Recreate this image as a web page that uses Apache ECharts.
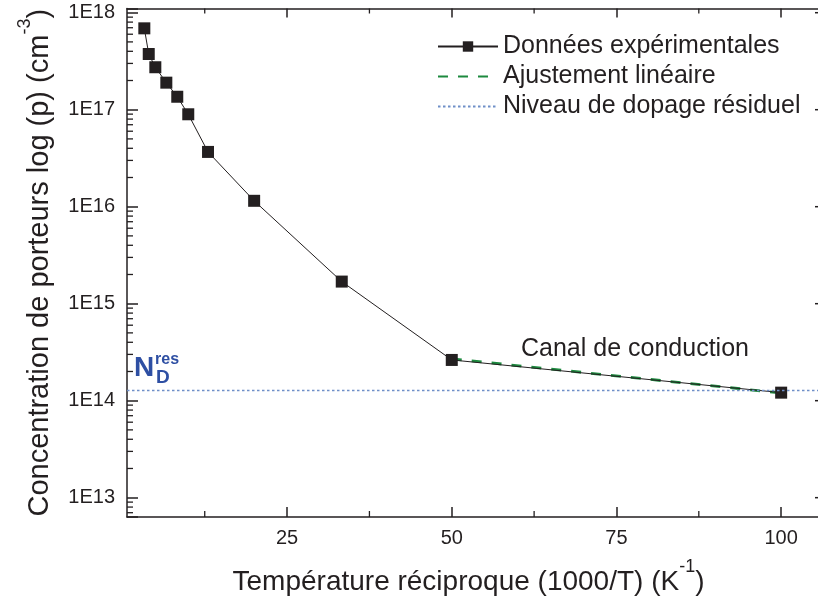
<!DOCTYPE html>
<html>
<head>
<meta charset="utf-8">
<script src="https://cdn.jsdelivr.net/npm/echarts@6/dist/echarts.min.js"></script>
<style>
html,body{margin:0;padding:0;background:#fff;overflow:hidden;}
#c{width:818px;height:605px;}
</style>
</head>
<body>
<div id="c"></div>
<script>
// ---- data ----
const invT = [3.33, 4, 5, 6.67, 8.33, 10, 13, 20, 33.3, 50, 100];
const pConc = [6.9e17, 3.75e17, 2.74e17, 1.9e17, 1.36e17, 8.97e16, 3.67e16, 1.15e16, 1.69e15, 2.63e14, 1.21e14];
const fitX = [50, 100];
const fitY = [2.7e14, 1.2e14];
const residualLevel = 1.27e14;
const xMajorTicks = [25, 50, 75, 100];
const xMinorTicks = [12.5, 37.5, 62.5, 87.5];
const yMajorTicks = [1e13, 1e14, 1e15, 1e16, 1e17, 1e18];
const yDecades = [12, 13, 14, 15, 16, 17];
const yMinorMantissas = [2, 3, 4, 5, 6, 7, 8, 9];
const seriesNames = ['Données expérimentales', 'Ajustement linéaire', 'Niveau de dopage résiduel'];

const X_MIN = 0.7, X_MAX = 106.2;
const Y_MIN = 6.32e12, Y_MAX = 1.105e18;
const FONT = '"Liberation Sans", Arial, Helvetica, sans-serif';
const INK = '#231f20';

const yMinorTicks = [];
yDecades.forEach(d => yMinorMantissas.forEach(m => {
  const v = m * Math.pow(10, d);
  if (v > Y_MIN && v < Y_MAX) yMinorTicks.push(v);
}));

const chart = echarts.init(document.getElementById('c'), null, {renderer: 'canvas'});

function yLabel(v) {
  const e = Math.log10(v);
  const r = Math.round(e);
  return Math.abs(e - r) < 1e-6 ? '1E' + r : '';
}

const option = {
  backgroundColor: '#fff',
  animation: false,
  grid: {left: 127, top: 8.5, width: 695, height: 508.5, containLabel: false, outerBoundsMode: 'none'},
  legend: {
    data: seriesNames,
    orient: 'vertical',
    left: 437,
    top: 34,
    padding: 0,
    itemWidth: 60,
    itemHeight: 13,
    itemGap: 5,
    textStyle: {fontFamily: FONT, fontSize: 25, color: INK},
    selectedMode: false
  },
  xAxis: [{
    type: 'value', position: 'bottom', min: X_MIN, max: X_MAX,
    axisLine: {show: true, lineStyle: {color: INK, width: 1.5}},
    axisTick: {show: true, inside: true, length: 10, customValues: xMajorTicks, lineStyle: {color: INK, width: 1.5}},
    axisLabel: {show: true, customValues: xMajorTicks, margin: 11, fontFamily: FONT, fontSize: 20, color: INK},
    splitLine: {show: false},
    name: '{t|Température réciproque (1000/T) (K}{s|-1}{t|)}',
    nameLocation: 'middle', nameGap: 41,
    nameTextStyle: {fontFamily: FONT, color: INK, fontSize: 28, padding: [0, 12, 0, 0],
      rich: {t: {fontFamily: FONT, fontSize: 28, color: INK, lineHeight: 38, verticalAlign: 'bottom'},
             s: {fontFamily: FONT, fontSize: 18, color: INK, lineHeight: 19, verticalAlign: 'top'}}}
  }, {
    type: 'value', position: 'top', min: X_MIN, max: X_MAX,
    axisLine: {show: true, lineStyle: {color: INK, width: 1.5}},
    axisTick: {show: true, inside: true, length: 9, customValues: xMajorTicks, lineStyle: {color: INK, width: 1.5}},
    axisLabel: {show: false}, splitLine: {show: false}
  }],
  yAxis: [{
    type: 'log', logBase: 10, position: 'left', min: Y_MIN, max: Y_MAX,
    axisLine: {show: true, lineStyle: {color: INK, width: 1.5}},
    axisTick: {show: true, inside: true, length: 11, lineStyle: {color: INK, width: 1.5}},
    axisLabel: {show: true, formatter: yLabel, margin: 12, fontFamily: FONT, fontSize: 20, color: INK},
    splitLine: {show: false},
    name: '{t|Concentration de porteurs log (p) (cm}{s|-3}{t|)}',
    nameLocation: 'middle', nameGap: 73, nameRotate: 90,
    nameTextStyle: {fontFamily: FONT, color: INK, fontSize: 29,
      rich: {t: {fontFamily: FONT, fontSize: 29, color: INK, lineHeight: 38, verticalAlign: 'bottom'},
             s: {fontFamily: FONT, fontSize: 18, color: INK, lineHeight: 19, verticalAlign: 'top'}}}
  }],
  series: [
    {
      name: seriesNames[2], type: 'line',
      data: [], showSymbol: false, symbol: 'none',
      lineStyle: {color: '#6f8fc8', width: 1.3, type: [2.5, 2.5]},
      itemStyle: {color: 'rgba(0,0,0,0)'},
      markLine: {
        silent: true, symbol: ['none', 'none'], label: {show: false},
        lineStyle: {color: '#6f8fc8', width: 1.3, type: [2.5, 2.5]},
        data: [{yAxis: residualLevel}]
      },
      z: 2
    },
    {
      name: seriesNames[0], type: 'line',
      data: invT.map((x, i) => [x, pConc[i]]),
      symbol: 'rect', symbolSize: 12,
      itemStyle: {color: INK},
      lineStyle: {color: INK, width: 1},
      z: 4
    },
    {
      name: seriesNames[1], type: 'line',
      data: fitX.map((x, i) => [x, fitY[i]]),
      symbol: 'none',
      lineStyle: {color: '#1d8a3f', width: 2.8, type: [10, 10]},
      itemStyle: {color: 'rgba(0,0,0,0)'},
      z: 3
    },
    {
      name: 'yminor', type: 'custom',
      data: yMinorTicks.map(v => [X_MIN, v]),
      silent: true, clip: false, z: 5,
      renderItem: function (params, api) {
        const pL = api.coord([X_MIN, api.value(1)]);
        return {type: 'line', shape: {x1: pL[0], y1: pL[1], x2: pL[0] + 6, y2: pL[1]}, style: {stroke: INK, lineWidth: 1.3}};
      }
    },
    {
      name: 'yright', type: 'custom',
      data: yMajorTicks.map(v => [X_MAX, v]),
      silent: true, clip: false, z: 5,
      renderItem: function (params, api) {
        const pR = api.coord([X_MAX, api.value(1)]);
        return {type: 'line', shape: {x1: pR[0], y1: pR[1], x2: pR[0] - 7, y2: pR[1]}, style: {stroke: INK, lineWidth: 1.5}};
      }
    },
    {
      name: 'xminor', type: 'custom',
      data: xMinorTicks.map(v => [v, Y_MIN]),
      silent: true, clip: false, z: 5,
      renderItem: function (params, api) {
        const v = api.value(0);
        const pB = api.coord([v, Y_MIN]);
        const pT = api.coord([v, Y_MAX]);
        const st = {stroke: INK, lineWidth: 1.3};
        return {type: 'group', children: [
          {type: 'line', shape: {x1: pB[0], y1: pB[1], x2: pB[0], y2: pB[1] - 6}, style: st},
          {type: 'line', shape: {x1: pT[0], y1: pT[1], x2: pT[0], y2: pT[1] + 5}, style: st}
        ]};
      }
    }
  ],
  graphic: [
    {type: 'text', left: 521, top: 337, style: {text: 'Canal de conduction', font: '25px ' + FONT, fill: INK}},
    {type: 'text', left: 134, top: 354, style: {text: 'N', font: 'bold 28px ' + FONT, fill: '#2e4fa3'}},
    {type: 'text', left: 155, top: 352, style: {text: 'res', font: 'bold 16px ' + FONT, fill: '#2e4fa3'}},
    {type: 'text', left: 156, top: 368, style: {text: 'D', font: 'bold 19px ' + FONT, fill: '#2e4fa3'}}
  ]
};
chart.setOption(option);
</script>
</body>
</html>
